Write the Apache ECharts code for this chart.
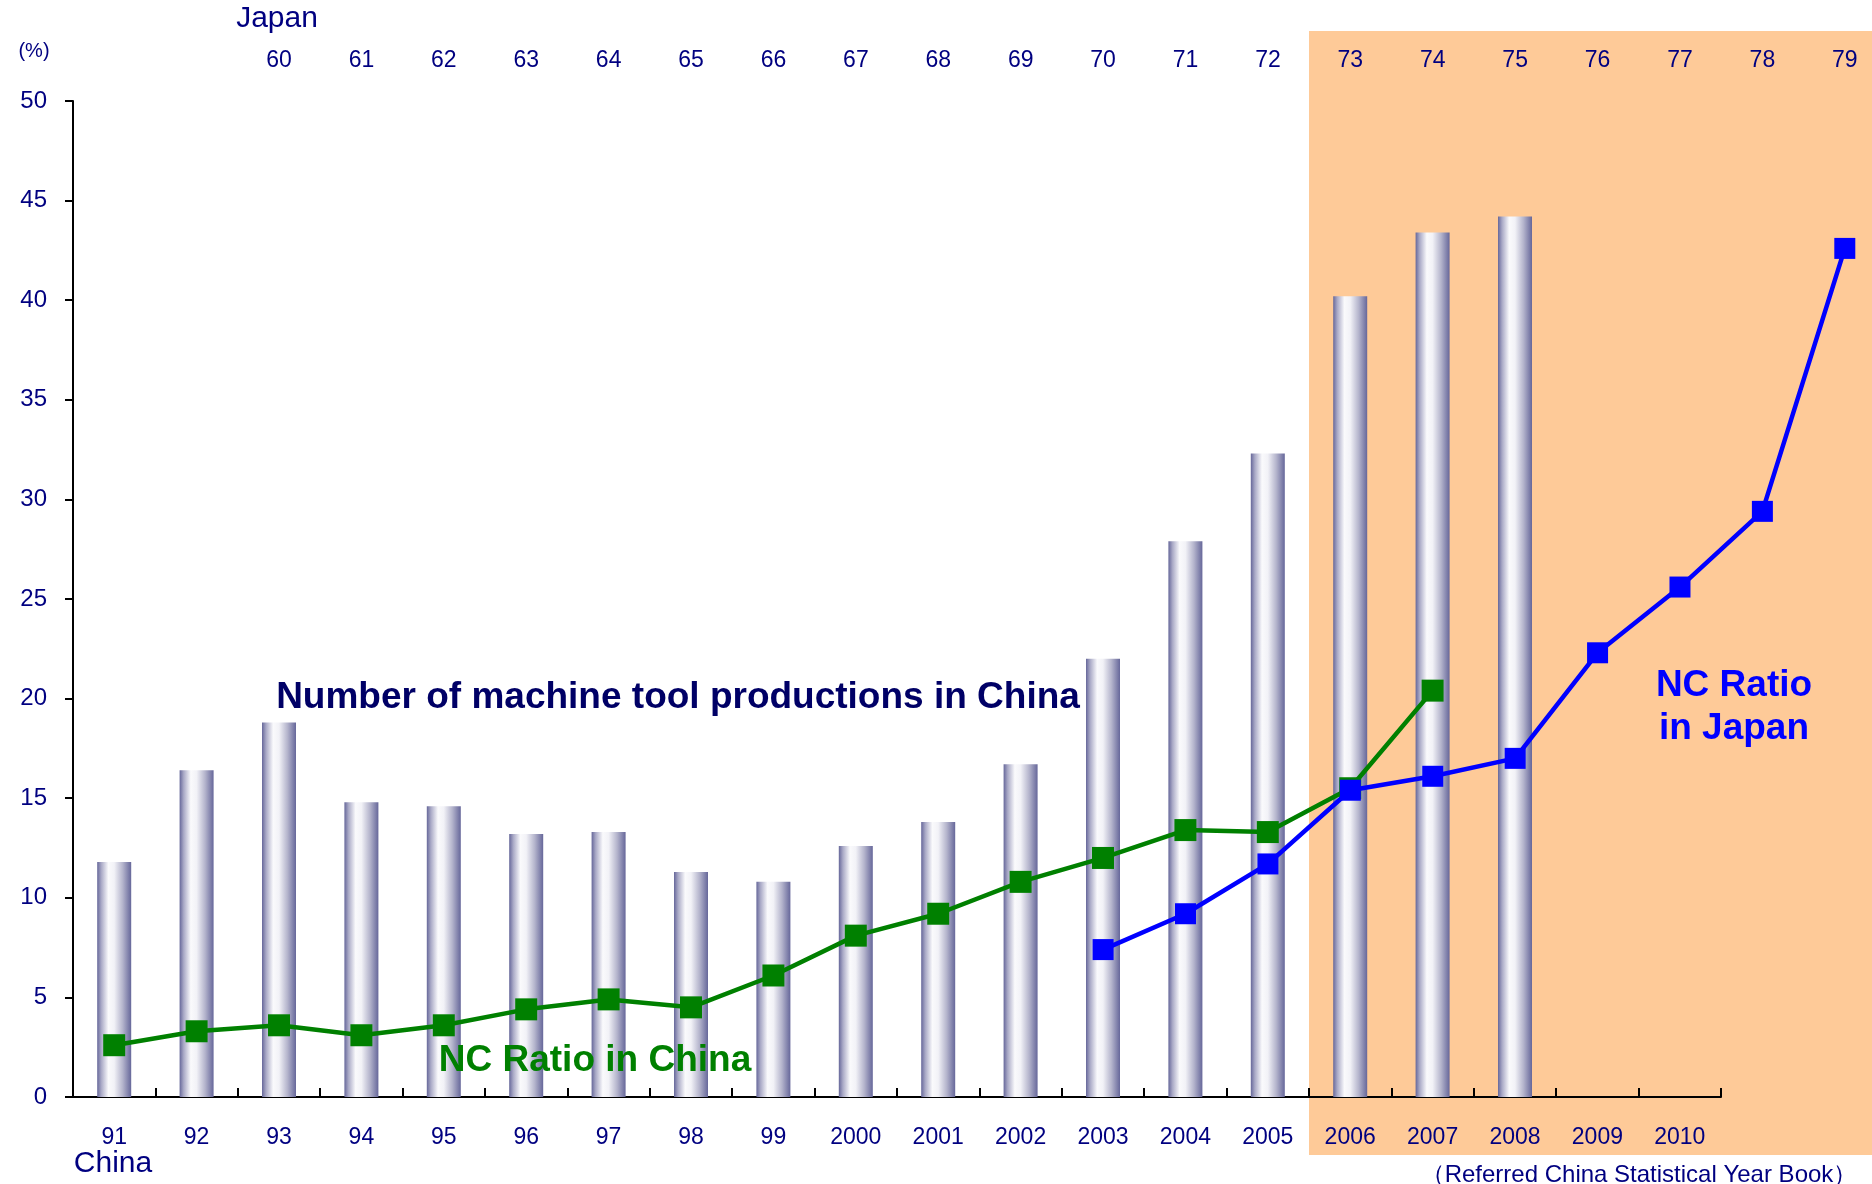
<!DOCTYPE html>
<html>
<head>
<meta charset="utf-8">
<script src="https://cdn.jsdelivr.net/npm/echarts@6/dist/echarts.min.js"></script>
<style>
html,body{margin:0;padding:0;background:#fff;}
#chart{width:1872px;height:1184px;}
</style>
</head>
<body>
<div id="chart"></div>
<script>
// ---- data ----
const chinaYears = ['91','92','93','94','95','96','97','98','99','2000','2001','2002','2003','2004','2005','2006','2007','2008','2009','2010'];
const japanYears = ['','','60','61','62','63','64','65','66','67','68','69','70','71','72','73','74','75','76','77','78','79'];
const machineToolProductions = [11.8,16.4,18.8,14.8,14.6,13.2,13.3,11.3,10.8,12.6,13.8,16.7,22.0,27.9,32.3,40.2,43.4,44.2,null,null];
const ncRatioChina = [2.6,3.3,3.6,3.1,3.6,4.4,4.9,4.5,6.1,8.1,9.2,10.8,12.0,13.4,13.3,15.5,20.4,null,null,null];
const ncRatioJapan = [null,null,null,null,null,null,null,null,null,null,null,null,7.4,9.2,11.7,15.4,16.1,17.0,22.3,25.6,29.4,42.6];
const shadedFrom = '2006';
const yTicks = {min:0, max:50, interval:5};

const FONT = '"Liberation Sans", Arial, sans-serif';
const NAVY = '#000080';

const chart = echarts.init(document.getElementById('chart'));
const shadeIndex = chinaYears.indexOf(shadedFrom);

const barGradient = new echarts.graphic.LinearGradient(0,0,1,0,[
  {offset:0, color:'#66679a'},
  {offset:0.12, color:'#a9a9c6'},
  {offset:0.33, color:'#fafafc'},
  {offset:0.5, color:'#f2f2f7'},
  {offset:0.75, color:'#b4b4cc'},
  {offset:1, color:'#66679a'}
]);

const option = {
  animation:false,
  backgroundColor:'#ffffff',
  textStyle:{fontFamily:FONT},
  grid:[
    {left:73, top:101, width:1648, height:996, outerBoundsMode:'none', containLabel:false},
    {left:73, top:101, width:1813, height:996, outerBoundsMode:'none', containLabel:false}
  ],
  xAxis:[
    {type:'category', gridIndex:0, position:'bottom', data:chinaYears, boundaryGap:true,
     axisLine:{show:true, lineStyle:{color:'#000', width:2}},
     axisTick:{show:true, inside:true, length:9, lineStyle:{color:'#000', width:2}},
     axisLabel:{color:NAVY, fontSize:23, fontFamily:FONT, margin:29, interval:0},
     splitLine:{show:false}},
    {type:'category', gridIndex:1, position:'top', data:japanYears, boundaryGap:true,
     axisLine:{show:false}, axisTick:{show:false},
     axisLabel:{color:NAVY, fontSize:23, fontFamily:FONT, margin:29, interval:0},
     splitLine:{show:false}}
  ],
  yAxis:[
    {type:'value', gridIndex:0, min:yTicks.min, max:yTicks.max, interval:yTicks.interval,
     axisLine:{show:true, lineStyle:{color:'#000', width:2}},
     axisTick:{show:true, inside:false, length:8, lineStyle:{color:'#000', width:2}},
     axisLabel:{color:NAVY, fontSize:24, fontFamily:FONT, margin:26},
     splitLine:{show:false}},
    {type:'value', gridIndex:1, min:yTicks.min, max:yTicks.max, interval:yTicks.interval, show:false,
     splitLine:{show:false}}
  ],
  series:[
    {
      type:'custom', xAxisIndex:0, yAxisIndex:0, z:-1, clip:false, silent:true,
      data:[[shadeIndex, 0]],
      renderItem:function(params, api){
        const cs = params.coordSys;
        const band = api.size([1,0])[0];
        const x0 = api.coord([api.value(0), 0])[0] - band/2;
        return {type:'rect', shape:{x:x0, y:cs.y-70, width:2000, height:cs.height+70+58},
                style:{fill:'#FECA98'}};
      }
    },
    {
      name:'Number of machine tool productions in China', type:'bar', xAxisIndex:0, yAxisIndex:0,
      data:machineToolProductions, barWidth:34, z:2,
      itemStyle:{color:barGradient}
    },
    {
      name:'NC Ratio in China', type:'line', xAxisIndex:0, yAxisIndex:0,
      data:ncRatioChina, z:4, symbol:'rect', symbolSize:22,
      lineStyle:{color:'#008000', width:4.5}, itemStyle:{color:'#008000'}
    },
    {
      name:'NC Ratio in Japan', type:'line', xAxisIndex:1, yAxisIndex:1,
      data:ncRatioJapan, z:5, symbol:'rect', symbolSize:21, clip:false,
      lineStyle:{color:'#0000ff', width:4.5}, itemStyle:{color:'#0000ff'}
    }
  ],
  graphic:[
    {type:'text', x:277, y:19, z:100, style:{text:'Japan', fill:NAVY, font:'30px '+FONT, textAlign:'center', textVerticalAlign:'middle'}},
    {type:'text', x:34, y:51, z:100, style:{text:'(%)', fill:NAVY, font:'20px '+FONT, textAlign:'center', textVerticalAlign:'middle'}},
    {type:'text', x:113, y:1164, z:100, style:{text:'China', fill:NAVY, font:'30px '+FONT, textAlign:'center', textVerticalAlign:'middle'}},
    {type:'text', x:1639, y:1175, z:100, style:{text:'（Referred China Statistical Year Book）', fill:NAVY, font:'24px '+FONT, textAlign:'center', textVerticalAlign:'middle'}},
    {type:'text', x:678, y:698, z:100, style:{text:'Number of machine tool productions in China', fill:'#000066', font:'bold 37px '+FONT, textAlign:'center', textVerticalAlign:'middle'}},
    {type:'text', x:595, y:1061, z:100, style:{text:'NC Ratio in China', fill:'#008000', font:'bold 37px '+FONT, textAlign:'center', textVerticalAlign:'middle'}},
    {type:'text', x:1734, y:707, z:100, style:{text:'NC Ratio\nin Japan', fill:'#0000ff', font:'bold 37px '+FONT, textAlign:'center', textVerticalAlign:'middle', lineHeight:43}}
  ]
};
chart.setOption(option);
</script>
</body>
</html>
